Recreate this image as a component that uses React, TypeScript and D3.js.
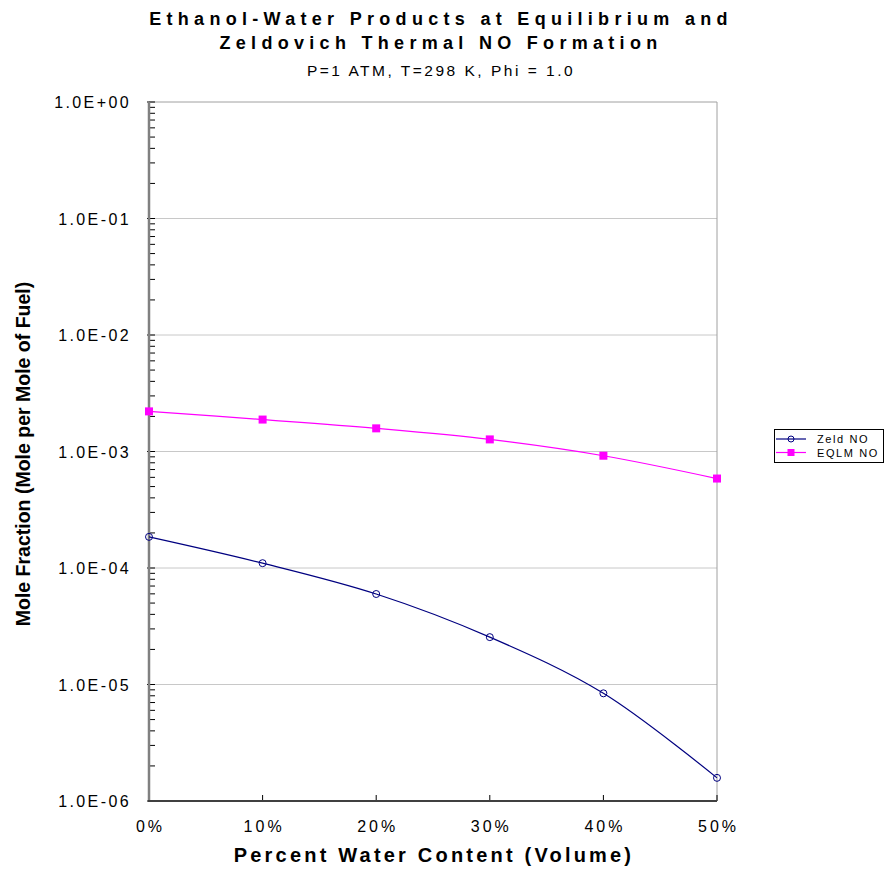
import React, { useEffect, useRef } from "react";
import * as d3 from "d3";

// percent water content (volume)
const waterPct = [0, 10, 20, 30, 40, 50];
// mole fraction
const zeldNO = [1.85e-4, 1.1e-4, 5.98e-5, 2.55e-5, 8.4e-6, 1.58e-6];
const eqlmNO = [2.21e-3, 1.88e-3, 1.58e-3, 1.27e-3, 9.2e-4, 5.86e-4];
const yTickValues = [1e0, 1e-1, 1e-2, 1e-3, 1e-4, 1e-5, 1e-6];
const yTickLabels = ["1.0E+00", "1.0E-01", "1.0E-02", "1.0E-03", "1.0E-04", "1.0E-05", "1.0E-06"];
const xTickLabels = ["0%", "10%", "20%", "30%", "40%", "50%"];

const FONT = "'Liberation Sans', Arial, sans-serif";

const App = () => {
  const ref = useRef<SVGSVGElement>(null);

  useEffect(() => {
    const svg = d3.select(ref.current);
    svg.selectAll("*").remove();

    const left = 149, right = 717, top = 102, bottom = 801;

    const x = d3.scaleLinear().domain([0, 50]).range([left, right]);
    const y = d3.scaleLog().domain([1e-6, 1]).range([bottom, top]);

    // gridlines
    svg.append("g")
      .selectAll("line")
      .data(yTickValues.slice(1, -1))
      .enter()
      .append("line")
      .attr("x1", left).attr("x2", right)
      .attr("y1", d => y(d)).attr("y2", d => y(d))
      .attr("stroke", "#c8c8c8").attr("stroke-width", 1);

    // plot border top + right
    svg.append("path")
      .attr("d", `M${left},${top}H${right}V${bottom}`)
      .attr("fill", "none").attr("stroke", "#a0a0a0").attr("stroke-width", 1);

    // minor y ticks
    const minor: number[] = [];
    for (let e = -6; e < 0; e++) {
      for (let m = 2; m <= 9; m++) minor.push(m * Math.pow(10, e));
    }
    svg.append("g")
      .selectAll("line")
      .data(minor)
      .enter()
      .append("line")
      .attr("x1", left).attr("x2", left + 6)
      .attr("y1", d => y(d)).attr("y2", d => y(d))
      .attr("stroke", "#000").attr("stroke-width", 1);

    // major y ticks
    svg.append("g")
      .selectAll("line")
      .data(yTickValues)
      .enter()
      .append("line")
      .attr("x1", left - 2).attr("x2", left + 6)
      .attr("y1", d => y(d)).attr("y2", d => y(d))
      .attr("stroke", "#000").attr("stroke-width", 1);

    // x ticks
    svg.append("g")
      .selectAll("line")
      .data(waterPct)
      .enter()
      .append("line")
      .attr("x1", d => x(d)).attr("x2", d => x(d))
      .attr("y1", bottom).attr("y2", bottom - 6)
      .attr("stroke", "#000").attr("stroke-width", 1);

    // axes
    svg.append("line")
      .attr("x1", left).attr("x2", left).attr("y1", top).attr("y2", bottom)
      .attr("stroke", "#808080").attr("stroke-width", 2.5);
    svg.append("line")
      .attr("x1", left - 1).attr("x2", right).attr("y1", bottom).attr("y2", bottom)
      .attr("stroke", "#404040").attr("stroke-width", 2);

    // y tick labels
    svg.append("g")
      .selectAll("text")
      .data(yTickValues)
      .enter()
      .append("text")
      .attr("x", 131)
      .attr("y", d => y(d) + 6)
      .attr("text-anchor", "end")
      .style("font", `16px ${FONT}`)
      .style("letter-spacing", "2.4px")
      .text((d, i) => yTickLabels[i]);

    // x tick labels
    svg.append("g")
      .selectAll("text")
      .data(waterPct)
      .enter()
      .append("text")
      .attr("x", d => x(d) + 1.5)
      .attr("y", 832)
      .attr("text-anchor", "middle")
      .style("font", `16px ${FONT}`)
      .style("letter-spacing", "3px")
      .text((d, i) => xTickLabels[i]);

    // series
    const series = [
      { name: "Zeld NO", values: zeldNO, color: "#000080", marker: "circle" },
      { name: "EQLM NO", values: eqlmNO, color: "#ff00ff", marker: "square" },
    ];
    const line = d3.line<number>()
      .x((d, i) => x(waterPct[i]))
      .y(d => y(d))
      .curve(d3.curveCatmullRom.alpha(0.5));

    series.forEach(s => {
      svg.append("path")
        .datum(s.values)
        .attr("d", line)
        .attr("fill", "none")
        .attr("stroke", s.color)
        .attr("stroke-width", 1.2);
      if (s.marker === "circle") {
        svg.append("g")
          .selectAll("circle")
          .data(s.values)
          .enter()
          .append("circle")
          .attr("cx", (d, i) => x(waterPct[i]))
          .attr("cy", d => y(d))
          .attr("r", 3.5)
          .attr("fill", "none")
          .attr("stroke", s.color)
          .attr("stroke-width", 1);
      } else {
        svg.append("g")
          .selectAll("rect")
          .data(s.values)
          .enter()
          .append("rect")
          .attr("x", (d, i) => x(waterPct[i]) - 4)
          .attr("y", d => y(d) - 4)
          .attr("width", 8)
          .attr("height", 8)
          .attr("fill", s.color);
      }
    });

    // titles
    const title = svg.append("g").style("font", `bold 18px ${FONT}`).style("letter-spacing", "5.3px");
    title.append("text").attr("x", 441).attr("y", 25).attr("text-anchor", "middle")
      .text("Ethanol-Water Products at Equilibrium and");
    title.append("text").attr("x", 441).attr("y", 49).attr("text-anchor", "middle")
      .text("Zeldovich Thermal NO Formation");
    svg.append("text").attr("x", 441).attr("y", 76).attr("text-anchor", "middle")
      .style("font", `15.5px ${FONT}`).style("letter-spacing", "2.5px")
      .text("P=1 ATM, T=298 K, Phi = 1.0");

    svg.append("text").attr("x", 434).attr("y", 862).attr("text-anchor", "middle")
      .style("font", `bold 20px ${FONT}`).style("letter-spacing", "3.2px")
      .text("Percent Water Content (Volume)");

    svg.append("text")
      .attr("transform", "translate(30,454) rotate(-90)")
      .attr("text-anchor", "middle")
      .style("font", `bold 19.5px ${FONT}`)
      .text("Mole Fraction (Mole per Mole of Fuel)");

    // legend
    const lg = svg.append("g");
    lg.append("rect").attr("x", 774.5).attr("y", 429.5).attr("width", 109).attr("height", 33)
      .attr("fill", "#fff").attr("stroke", "#000").attr("stroke-width", 1);
    series.forEach((s, i) => {
      const ly = 439 + i * 13.5;
      lg.append("line").attr("x1", 776).attr("x2", 806).attr("y1", ly).attr("y2", ly)
        .attr("stroke", s.color).attr("stroke-width", 1.2);
      if (s.marker === "circle") {
        lg.append("circle").attr("cx", 791).attr("cy", ly).attr("r", 3)
          .attr("fill", "none").attr("stroke", s.color);
      } else {
        lg.append("rect").attr("x", 787.5).attr("y", ly - 3.5).attr("width", 7).attr("height", 7)
          .attr("fill", s.color);
      }
      lg.append("text").attr("x", 817).attr("y", ly + 4)
        .style("font", `11px ${FONT}`).style("letter-spacing", "1.6px")
        .text(s.name);
    });
  }, []);

  return <svg ref={ref} width={885} height={869} style={{ display: "block", position: "absolute", left: 0, top: 0 }} />;
};

export default App;
